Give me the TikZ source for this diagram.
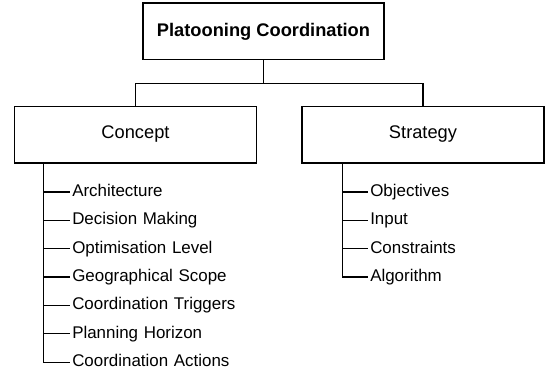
\documentclass[tikz,border=0pt]{standalone}
\usepackage{fontspec}
\setmainfont{Liberation Sans}
\usepackage{tikz}
\usetikzlibrary{shapes.geometric, arrows}
\tikzstyle{rootbox} = [rectangle, minimum width=6.38cm, minimum height=1.5cm, text centered, draw=black, line width=1pt, font=\fontsize{13.75}{16}\selectfont\bfseries]
\tikzstyle{branchbox} = [rectangle, minimum width=6.41cm, minimum height=1.5cm, text centered, draw=black, line width=1pt, font=\fontsize{13.75}{16}\selectfont]
\tikzstyle{item} = [rectangle, text width=4.5cm, align=left, inner sep=1.5pt, text height=9pt, text depth=2.4pt, font=\fontsize{12.75}{15}\selectfont]
\tikzstyle{tree} = [line width=0.85pt]

\begin{document}
\begin{tikzpicture}[node distance=2.726cm]
\useasboundingbox (0,0) rectangle (14.579,-9.895);
\node (platoon) [rootbox] at (6.972,-0.833) {Platooning Coordination};
\node (concept) [branchbox, below of = platoon, xshift = -3.387cm] {Concept};
\node (strategy) [branchbox, right of = concept, xshift = 4.881cm] {Strategy};
\coordinate (split) at ([yshift=-0.6cm]platoon.south);
\draw [tree] (platoon.south) -- (split) -| (concept.north);
\draw [tree] (split) -| (strategy.north);
% concept items
\node (arch) [item, anchor=west] at (1.852,-5.080) {Architecture};
\node (decision) [item, below of = arch, node distance=0.75cm] {Decision Making};
\node (optim) [item, below of = decision, node distance=0.75cm] {Optimisation Level};
\node (geo) [item, below of = optim, node distance=0.75cm] {Geographical Scope};
\node (trigger) [item, below of = geo, node distance=0.75cm] {Coordination Triggers};
\node (horizon) [item, below of = trigger, node distance=0.75cm] {Planning Horizon};
\node (action) [item, below of = horizon, node distance=0.75cm] {Coordination Actions};
\coordinate (ctrunk) at ([xshift=0.794cm]concept.south west);
\draw [tree] (ctrunk) |- (arch.west);
\draw [tree] (ctrunk) |- (decision.west);
\draw [tree] (ctrunk) |- (optim.west);
\draw [tree] (ctrunk) |- (geo.west);
\draw [tree] (ctrunk) |- (trigger.west);
\draw [tree] (ctrunk) |- (horizon.west);
\draw [tree] (ctrunk) |- (action.west);
% strategy items
\node (objective) [item, anchor=west] at (9.737,-5.080) {Objectives};
\node (input) [item, below of = objective, node distance=0.75cm] {Input};
\node (constraint) [item, below of = input, node distance=0.75cm] {Constraints};
\node (algo) [item, below of = constraint, node distance=0.75cm] {Algorithm};
\coordinate (strunk) at ([xshift=1.085cm]strategy.south west);
\draw [tree] (strunk) |- (objective.west);
\draw [tree] (strunk) |- (input.west);
\draw [tree] (strunk) |- (constraint.west);
\draw [tree] (strunk) |- (algo.west);
\end{tikzpicture}
\end{document}
